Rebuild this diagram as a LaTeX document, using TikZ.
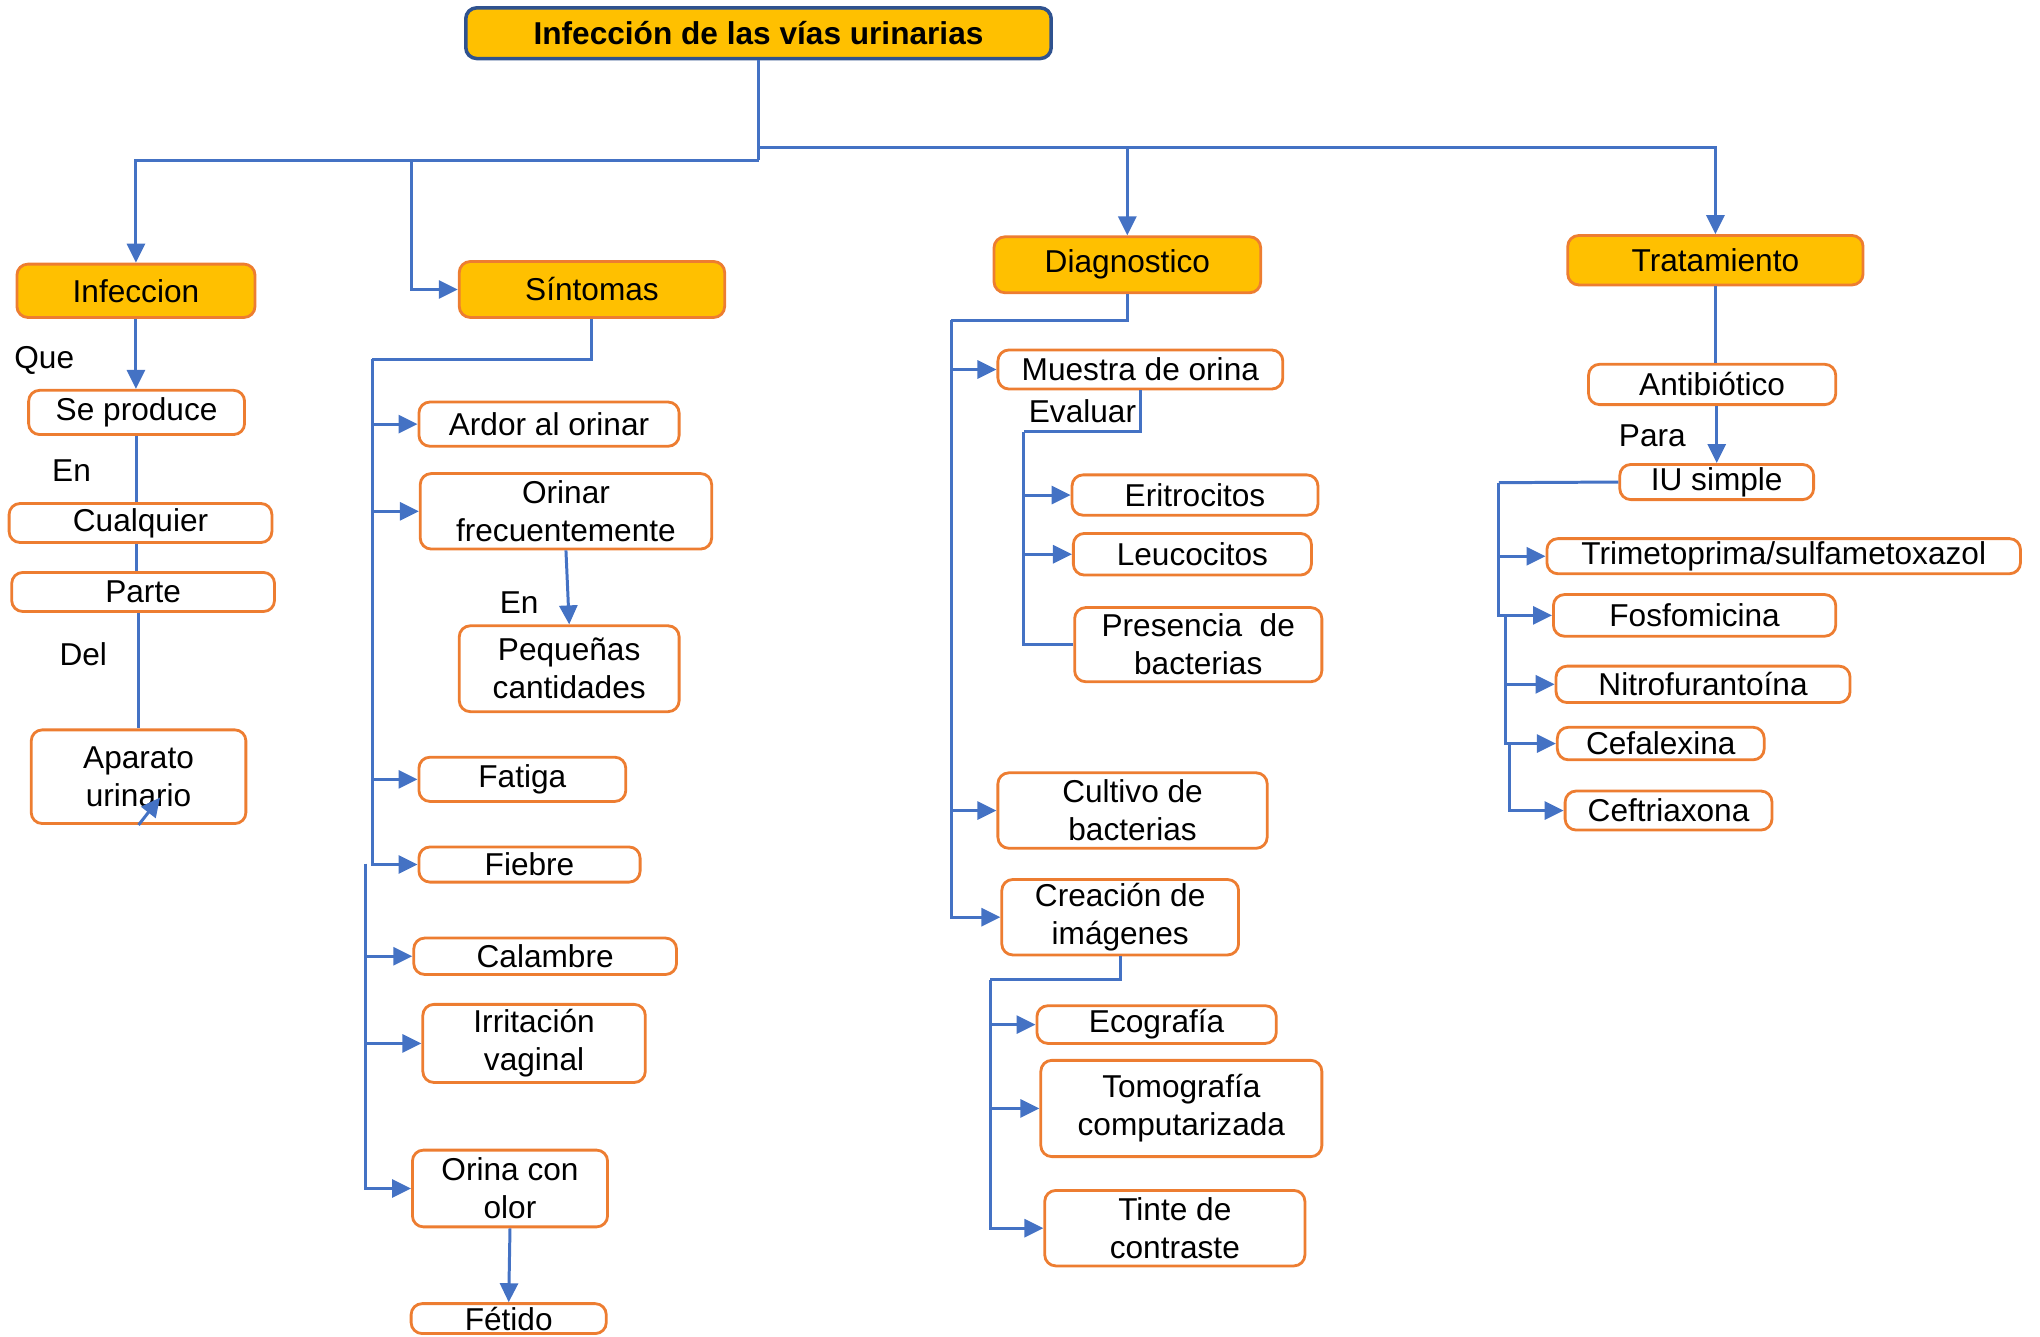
\documentclass[tikz,border=0pt]{standalone}
\usepackage{fontspec}
\setmainfont{Liberation Sans}
\usetikzlibrary{arrows.meta}
\definecolor{linkblue}{HTML}{4472C4}
\definecolor{boxorange}{HTML}{ED7D31}
\definecolor{boxgold}{HTML}{FFC000}
\definecolor{titleblue}{HTML}{2F528F}
\newcommand{\pxu}{0.01301cm}
\begin{document}
\begin{tikzpicture}[x=\pxu, y=-\pxu,
    every node/.style={font=\fontsize{9}{10.8}\selectfont},
    sz/.style 2 args={minimum width=#1*\pxu, minimum height=#2*\pxu},
    leaf/.style={draw=boxorange, line width=0.8pt, rounded corners=1.1mm, fill=white, inner sep=0pt, align=center},
    topic/.style={leaf, fill=boxgold},
    lbl/.style={inner sep=0pt},
    line/.style={draw=linkblue, line width=0.85pt},
    arr/.style={line, -{Triangle[length=1.9mm, width=1.8mm]}}]
\useasboundingbox (0,0) rectangle (1568,1027);

% title and the four topics
\node[topic, draw=titleblue, line width=1pt, sz={450}{39}, font=\fontsize{9}{10.8}\selectfont\bfseries] (root) at (583,25.5) {Infección de las vías urinarias};
\node[topic, sz={183}{41}] (infec) at (104.5,223.5) {Infeccion};
\node[topic, sz={204}{43}] (sint) at (455,222.5) {Síntomas};
\node[topic, sz={205}{43}] (diag) at (866.5,203.5) {Diagnostico};
\node[topic, sz={227}{38}] (trat) at (1318.5,200) {Tratamiento};

% infeccion
\node[leaf, sz={166}{34}] (sepro) at (105,317) {Se produce};
\node[leaf, sz={202}{30}] (cualq) at (108,402) {Cualquier};
\node[leaf, sz={202}{30}] (parte) at (110,455) {Parte};
\node[leaf, sz={165}{72}] (apar) at (106.5,597) {Aparato\\urinario};
\node[lbl] (que) at (34,277) {Que};
\node[lbl] (en1) at (55,362) {En};
\node[lbl] (del) at (64,503) {Del};

% sintomas
\node[leaf, sz={200}{34}] (ardor) at (422,326) {Ardor al orinar};
\node[leaf, sz={224}{58}] (orinar) at (435,393) {Orinar\\frecuentemente};
\node[leaf, sz={169}{66}] (peq) at (437.5,514) {Pequeñas\\cantidades};
\node[leaf, sz={159}{34}] (fatiga) at (401.5,599) {Fatiga};
\node[leaf, sz={170}{27}] (fiebre) at (407,664.5) {Fiebre};
\node[leaf, sz={202}{28}] (calam) at (419,735) {Calambre};
\node[leaf, sz={171}{60}] (irrit) at (410.5,802) {Irritación\\vaginal};
\node[leaf, sz={150}{59}] (olor) at (392,913.5) {Orina con\\olor};
\node[leaf, sz={150}{23}] (fetido) at (391,1013.5) {Fétido};
\node[lbl] (en2) at (399,463) {En};

% diagnostico
\node[leaf, sz={219}{30}] (muestra) at (876.5,284) {Muestra de orina};
\node[leaf, sz={189}{31}] (eritro) at (918.5,380.5) {Eritrocitos};
\node[leaf, sz={183}{32}] (leuco) at (916.5,426) {Leucocitos};
\node[leaf, sz={190}{57}] (pres) at (921,495.5) {Presencia\ \ de\\bacterias};
\node[leaf, sz={207}{58}] (cultivo) at (870.5,623) {Cultivo de\\bacterias};
\node[leaf, sz={182}{58}] (imag) at (861,705) {Creación de\\imágenes};
\node[leaf, sz={184}{29}] (ecog) at (889,787.5) {Ecografía};
\node[leaf, sz={216}{74}] (tomo) at (908,852) {Tomografía\\computarizada};
\node[leaf, sz={200}{58}] (tinte) at (903,944) {Tinte de\\contraste};
\node[lbl] (evaluar) at (832,316) {Evaluar};

% tratamiento
\node[leaf, sz={190}{31}] (anti) at (1316,295.5) {Antibiótico};
\node[leaf, sz={149}{27}] (iu) at (1319.5,370.5) {IU simple};
\node[leaf, sz={364}{27}] (trim) at (1371,427.5) {Trimetoprima/sulfametoxazol};
\node[leaf, sz={217}{32}] (fosf) at (1302.5,473) {Fosfomicina};
\node[leaf, sz={226}{28}] (nitro) at (1309,526) {Nitrofurantoína};
\node[leaf, sz={159}{25}] (cefal) at (1276.5,571.5) {Cefalexina};
\node[leaf, sz={159}{30}] (ceft) at (1282.5,623) {Ceftriaxona};
\node[lbl] (para) at (1270,335) {Para};

% junctions
\coordinate (jl) at (583,123);
\coordinate (jr) at (583,113);
\coordinate (js) at (316,123);
\coordinate (st1) at (286,276);
\coordinate (st2) at (281,664);
\coordinate (dt1) at (731,246);
\coordinate (et1) at (787,332);
\coordinate (ct1) at (761,753);
\coordinate (it1) at (1152,371);
\coordinate (it2) at (1157,473);
\coordinate (it3) at (1160,572);
\coordinate (stray) at (123,613);

\draw[line] (root.south) -- (jl);
\draw[arr] (jl) -| (infec.north);
\draw[arr] (js) |- (sint.west);
\draw[line] (jl) -- (jr);
\draw[arr] (jr) -| (diag.north);
\draw[arr] (jr) -| (trat.north);

\draw[arr] (infec.south) -- (infec.south |- sepro.north);
\draw[line] (sepro.south) -- (sepro.south |- cualq.north);
\draw[line] (cualq.south -| sepro.south) -- (sepro.south |- parte.north);
\draw[line] (parte.south -| apar.north) -- (apar.north);
\draw[arr] (apar.south) -- (stray);

\draw[line] (sint.south) |- (st1);
\draw[arr] (st1) |- (ardor.west);
\draw[arr] (st1) |- (orinar.west);
\draw[arr] (st1) |- (fatiga.west);
\draw[arr] (st1) |- (fiebre.west);
\draw[arr] (st2) |- (calam.west);
\draw[arr] (st2) |- (irrit.west);
\draw[arr] (st2) |- (olor.west);
\draw[arr] (orinar.south) -- (peq.north);
\draw[arr] (olor.south) -- (fetido.north);

\draw[line] (diag.south) |- (dt1);
\draw[arr] (dt1) |- (muestra.west);
\draw[arr] (dt1) |- (cultivo.west);
\draw[arr] (dt1) |- (imag.west);
\draw[line] (muestra.south) |- (et1);
\draw[arr] (et1) |- (eritro.west);
\draw[arr] (et1) |- (leuco.west);
\draw[line] (et1) |- (pres.west);
\draw[line] (imag.south) |- (ct1);
\draw[arr] (ct1) |- (ecog.west);
\draw[arr] (ct1) |- (tomo.west);
\draw[arr] (ct1) |- (tinte.west);

\draw[line] (trat.south) -- (trat.south |- anti.north);
\draw[arr] (iu.north |- anti.south) -- (iu.north);
\draw[line] (iu.west) -- (it1);
\draw[arr] (it1) |- (trim.west);
\draw[arr] (it1) |- (fosf.west);
\draw[arr] (it2) |- (nitro.west);
\draw[arr] (it2) |- (cefal.west);
\draw[arr] (it3) |- (ceft.west);
\end{tikzpicture}
\end{document}
